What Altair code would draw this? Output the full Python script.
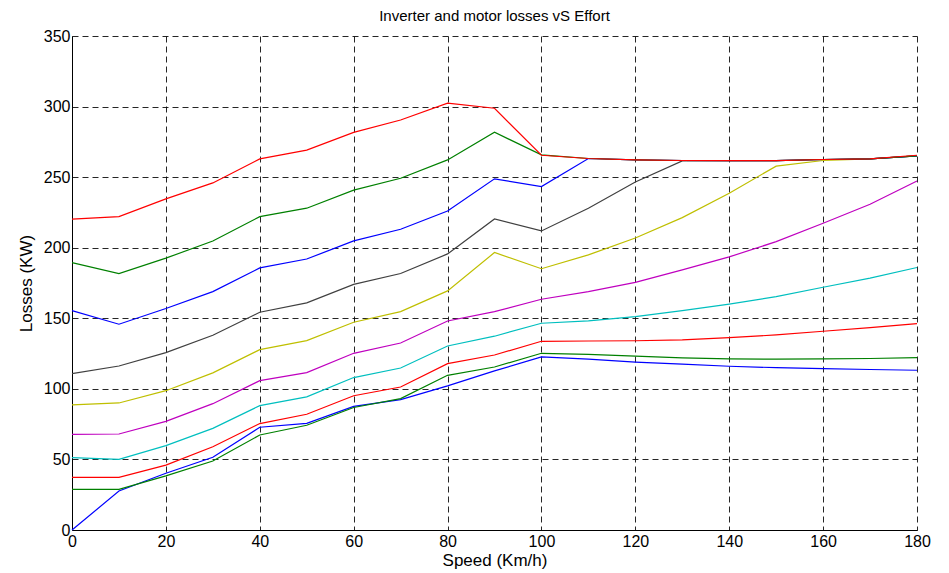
import altair as alt
import pandas as pd

speed = [0, 10, 20, 30, 40, 50, 60, 70, 80, 90, 100, 110, 120, 130, 140, 150, 160, 170, 180]

s01_blue = [0, 27.6, 40.2, 51.5, 72.8, 75.6, 87.6, 92.4, 102.1, 112.7, 122.6, 121, 119, 117.5, 116, 115, 114.3, 113.7, 113.2]
s02_green = [28.8, 28.8, 38.3, 48.9, 67.3, 74.2, 86.8, 93.1, 109.6, 115.5, 125.2, 124.5, 123.2, 122, 121.2, 121.1, 121.2, 121.5, 122.1]
s03_red = [37.3, 37.3, 46, 59, 75.4, 82, 95.1, 101.3, 117.9, 124, 133.7, 133.9, 134.1, 134.7, 136.3, 138.2, 140.8, 143.4, 146.2]
s04_cyan = [51.3, 50.1, 59.8, 72, 88.1, 94.3, 108, 114.8, 130.4, 137.3, 146.5, 148.1, 151.2, 155.4, 160, 165.3, 172, 178.5, 186]
s05_magenta = [67.8, 68, 77, 89.5, 105.8, 111.5, 125.2, 132.5, 148.1, 154.7, 163.5, 168.9, 175.5, 184.3, 193.5, 204.3, 217.3, 230.8, 247.3]
s06_yellow = [88.6, 90, 98.7, 111.3, 127.8, 134.2, 147.2, 154.7, 169.4, 196.6, 185.1, 194.9, 206.9, 221.3, 238.6, 257.8, 261.8, 263, 265]
s07_black = [110.8, 116.2, 125.7, 138, 154.3, 160.9, 174, 181.7, 195.6, 220.4, 211.9, 228, 246.6, 261.5, 261.7, 261.7, 262.5, 263, 265]
s08_blue = [155.4, 145.8, 156.9, 168.9, 185.7, 192, 204.8, 213.1, 226, 248.8, 243.3, 263.2, 262.2, 261.8, 261.7, 261.7, 262.5, 263, 265]
s09_green = [189.4, 181.7, 192.6, 204.8, 222, 228, 240.8, 249.2, 262.2, 281.8, 265.8, 263.2, 262.2, 261.8, 261.7, 261.7, 262.5, 263, 265]
s10_red = [220.2, 222, 234.6, 245.9, 262.9, 269.1, 281.7, 290.5, 302.4, 298.8, 265.5, 263.2, 262.2, 261.8, 261.7, 261.7, 262.5, 263, 265.5]

series_names = ["s01", "s02", "s03", "s04", "s05", "s06", "s07", "s08", "s09", "s10"]
series_values = [s01_blue, s02_green, s03_red, s04_cyan, s05_magenta, s06_yellow,
                 s07_black, s08_blue, s09_green, s10_red]
series_colors = ["#0000FF", "#008000", "#FF0000", "#00BFBF", "#BF00BF", "#BFBF00",
                 "#404040", "#0000FF", "#008000", "#FF0000"]

x_ticks = [0, 20, 40, 60, 80, 100, 120, 140, 160, 180]
y_ticks = [0, 50, 100, 150, 200, 250, 300, 350]

rows = []
for name, vals in zip(series_names, series_values):
    for s, v in zip(speed, vals):
        rows.append({"series": name, "speed": s, "loss": v})
df = pd.DataFrame(rows)

FONT = "Liberation Sans"

chart = alt.Chart(df).mark_line(strokeWidth=1.2).encode(
    x=alt.X("speed:Q",
            scale=alt.Scale(domain=[0, 180], nice=False, zero=False),
            axis=alt.Axis(values=x_ticks, title="Speed (Km/h)", titlePadding=3,
                          labelPadding=3, tickSize=0, labelFlush=False)),
    y=alt.Y("loss:Q",
            scale=alt.Scale(domain=[0, 350], nice=False),
            axis=alt.Axis(values=y_ticks, title="Losses (KW)", titlePadding=8,
                          labelPadding=2, tickSize=0, labelFlush=False)),
    color=alt.Color("series:N",
                    scale=alt.Scale(domain=series_names, range=series_colors),
                    legend=None),
    detail="series:N",
).properties(
    width=845,
    height=494,
    autosize=alt.AutoSizeParams(type="none"),
    padding={"left": 64, "top": 28, "right": 20, "bottom": 40},
    title=alt.Title("Inverter and motor losses vS Effort", font=FONT, fontSize=15,
                    fontWeight="normal", color="black", anchor="middle", offset=4),
).configure_axis(
    domainColor="black",
    domainWidth=1,
    gridColor="black",
    gridDash=[6, 4],
    gridOpacity=0.85,
    gridWidth=1,
    labelFont=FONT,
    labelFontSize=16,
    labelColor="black",
    titleFont=FONT,
    titleFontSize=17,
    titleFontWeight="normal",
    titleColor="black",
).configure_view(stroke=None)

chart.save("out.html", embed_options={"renderer": "svg", "actions": False})
